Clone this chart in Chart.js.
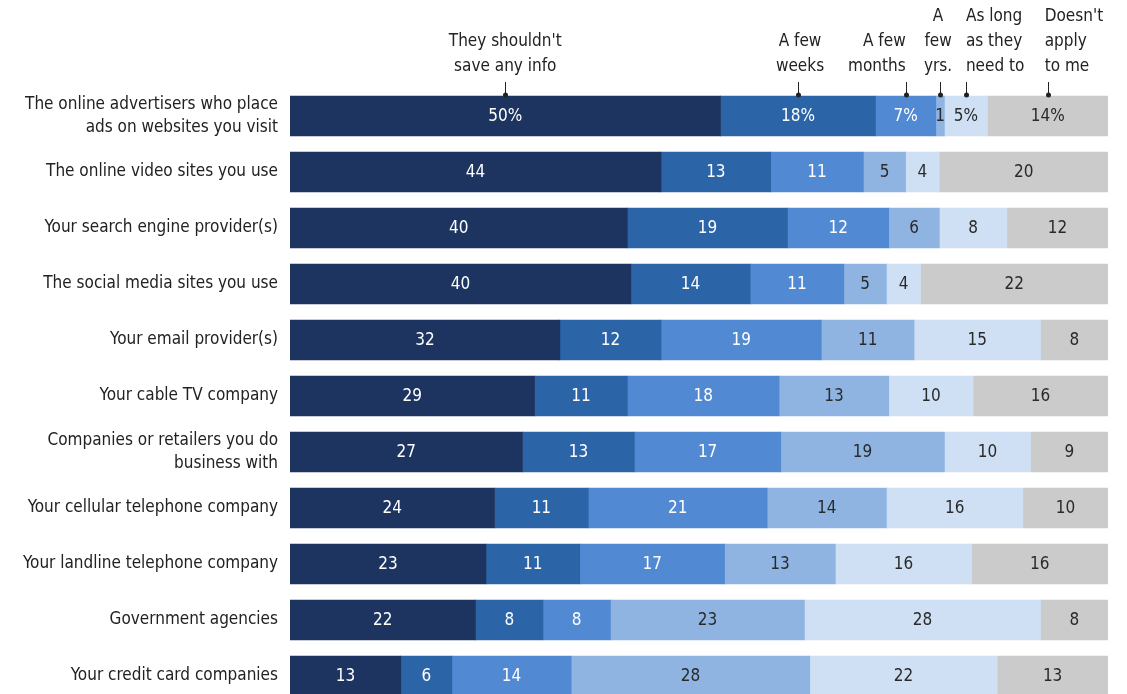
<!DOCTYPE html>
<html>
<head>
<meta charset="utf-8">
<script src="https://cdn.jsdelivr.net/npm/chart.js@4.4.1/dist/chart.umd.min.js"></script>
<style>
  html, body { margin: 0; padding: 0; background: #fff; overflow: hidden; }
  #wrap { position: relative; width: 1127px; height: 710px; }
</style>
</head>
<body>
<div id="wrap"><canvas id="myChart"></canvas></div>
<script>
// who keeps the info, one row per type of company
var categories = [
  ['The online advertisers who place', 'ads on websites you visit'],
  'The online video sites you use',
  'Your search engine provider(s)',
  'The social media sites you use',
  'Your email provider(s)',
  'Your cable TV company',
  ['Companies or retailers you do', 'business with'],
  'Your cellular telephone company',
  'Your landline telephone company',
  'Government agencies',
  'Your credit card companies'
];

// answer columns, header text drawn above the first bar
var responses = ["They shouldn't save any info", 'A few weeks', 'A few months', 'A few yrs.', 'As long as they need to', "Doesn't apply to me"];
var headerLines = [
  ["They shouldn't", 'save any info'],
  ['A few', 'weeks'],
  ['A few', 'months'],
  ['A', 'few', 'yrs.'],
  ['As long', 'as they', 'need to'],
  ["Doesn't", 'apply', 'to me']
];

// percentages
var noInfo    = [50, 44, 40, 40, 32, 29, 27, 24, 23, 22, 13];
var fewWeeks  = [18, 13, 19, 14, 12, 11, 13, 11, 11,  8,  6];
var fewMonths = [ 7, 11, 12, 11, 19, 18, 17, 21, 17,  8, 14];
var fewYears  = [ 1,  5,  6,  5, 11, 13, 19, 14, 13, 23, 28];
var asLong    = [ 5,  4,  8,  4, 15, 10, 10, 16, 16, 28, 22];
var notApply  = [14, 20, 12, 22,  8, 16,  9, 10, 16,  8, 13];

var series = [noInfo, fewWeeks, fewMonths, fewYears, asLong, notApply];
var colors = ['#1d3461', '#2c64a8', '#5289d3', '#8fb4e2', '#cfe0f4', '#cbcbcb'];
var labelColors = ['#ffffff', '#ffffff', '#ffffff', '#2a2a2a', '#2a2a2a', '#2a2a2a'];

var FONT = "'Liberation Sans Narrow', 'DejaVu Sans Condensed', Roboto, sans-serif";

// each row is stretched to the full width (the rest of 100 is no answer)
var rowTotals = categories.map(function (c, i) {
  return series.reduce(function (s, arr) { return s + arr[i]; }, 0);
});

var datasets = series.map(function (arr, k) {
  return {
    label: responses[k],
    data: arr.map(function (v, i) { return v / rowTotals[i] * 100; }),
    raw: arr,
    backgroundColor: colors[k],
    borderWidth: 0,
    barThickness: 40
  };
});

// numbers inside the segments
var segmentLabels = {
  id: 'segmentLabels',
  afterDatasetsDraw: function (chart) {
    var ctx = chart.ctx;
    ctx.save();
    ctx.font = '17px ' + FONT;
    ctx.textAlign = 'center';
    ctx.textBaseline = 'middle';
    chart.data.datasets.forEach(function (ds, k) {
      chart.getDatasetMeta(k).data.forEach(function (bar, i) {
        var txt = String(ds.raw[i]);
        if (i === 0 && ds.raw[i] > 1) txt += '%';
        ctx.fillStyle = labelColors[k];
        ctx.fillText(txt, (bar.x + bar.base) / 2, bar.y + 1);
      });
    });
    ctx.restore();
  }
};

// column headers with little pointer lines above the first row
var headers = {
  id: 'headers',
  afterDraw: function (chart) {
    var ctx = chart.ctx;
    var align = ['center', 'center', 'right', 'center', 'left', 'left'];
    var dx = [0, 2, 0, -2, 0, -3];
    ctx.save();
    ctx.font = '17px ' + FONT;
    ctx.textBaseline = 'middle';
    ctx.fillStyle = '#222';
    ctx.strokeStyle = '#222';
    ctx.lineWidth = 1;
    headerLines.forEach(function (lines, k) {
      var bar = chart.getDatasetMeta(k).data[0];
      var cx = (bar.x + bar.base) / 2;
      var top = bar.y - bar.height / 2;
      ctx.textAlign = align[k];
      lines.forEach(function (line, j) {
        var y = top - 29 - (lines.length - 1 - j) * 25;
        ctx.fillText(line, cx + dx[k], y);
      });
      ctx.beginPath();
      ctx.moveTo(Math.round(cx) + 0.5, top - 14);
      ctx.lineTo(Math.round(cx) + 0.5, top - 1);
      ctx.stroke();
      ctx.beginPath();
      ctx.arc(Math.round(cx) + 0.5, top - 1, 2.5, 0, Math.PI * 2);
      ctx.fill();
    });
    ctx.restore();
  }
};

var ctx = document.getElementById('myChart').getContext('2d');
var myChart = new Chart(ctx, {
  type: 'bar',
  data: { labels: categories, datasets: datasets },
  plugins: [segmentLabels, headers],
  options: {
    indexAxis: 'y',
    responsive: true,
    maintainAspectRatio: false,
    animation: false,
    layout: { padding: { top: 88, right: 19, bottom: 6, left: 0 } },
    plugins: { legend: { display: false }, tooltip: { enabled: false } },
    scales: {
      x: { stacked: true, min: 0, max: 100, display: false },
      y: {
        stacked: true,
        border: { display: false },
        grid: { display: false, drawTicks: false },
        ticks: {
          color: '#222',
          padding: 12,
          font: { family: FONT, size: 17, lineHeight: 1.4 }
        },
        afterFit: function (scale) {
          scale.width = 290;
          // rows are spaced evenly, labels need no extra room at the ends
          scale.paddingTop = 0;
          scale.paddingBottom = 0;
        }
      }
    }
  }
});
</script>
</body>
</html>
